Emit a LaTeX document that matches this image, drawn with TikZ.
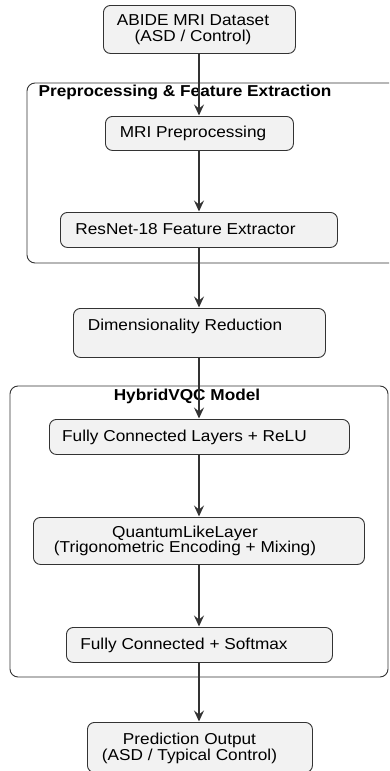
\documentclass[tikz,border=0pt]{standalone}
\usepackage{fontspec}
\setmainfont[FakeStretch=1.09]{Liberation Sans}
\usetikzlibrary{arrows.meta}

\definecolor{boxfill}{HTML}{F2F2F2}
\definecolor{edge}{HTML}{333333}

\tikzset{
  stage/.style={draw=edge, line width=0.9pt, fill=boxfill, rounded corners=7pt,
    inner sep=0pt, anchor=north west},
  group/.style={draw=edge, line width=0.9pt, rounded corners=8pt},
  txt/.style={inner sep=0pt, align=center, font=\fontsize{15.8}{15.5}\selectfont},
  grouptitle/.style={inner sep=0pt, font=\fontsize{15.8}{15.5}\selectfont\bfseries},
  flow/.style={draw=edge, line width=1.4pt,
    -{Stealth[length=11pt,width=10pt,inset=4pt]}, shorten >=0.5pt}
}

\begin{document}
\begin{tikzpicture}[x=1pt,y=-1pt]
  \useasboundingbox (0,0) rectangle (389,771);
  \clip (0,0) rectangle (389,771);

  % enclosing groups
  \draw[group] (27,83) rectangle (400,263);
  \draw[group] (10,386) rectangle (388,677);
  \node[grouptitle] (g1) at (185,92) {Preprocessing \& Feature Extraction};
  \node[grouptitle] (g2) at (187,396) {HybridVQC Model};

  % stages
  \node[stage, minimum width=192, minimum height=48] (abide) at (103,5) {};
  \node[stage, minimum width=188, minimum height=34] (prep) at (105,116) {};
  \node[stage, minimum width=277, minimum height=35] (resnet) at (60,212) {};
  \node[stage, minimum width=252, minimum height=49] (dimred) at (73,308) {};
  \node[stage, minimum width=300, minimum height=35] (fc) at (49,419) {};
  \node[stage, minimum width=331, minimum height=47] (qll) at (33,517) {};
  \node[stage, minimum width=266, minimum height=35] (soft) at (66,627) {};
  \node[stage, minimum width=225, minimum height=50] (pred) at (87,722) {};

  % stage labels
  \node[txt] (tabide) at (193,29.5) {ABIDE MRI Dataset\\(ASD / Control)};
  \node[txt] (tprep) at (193,133) {MRI Preprocessing};
  \node[txt] (tresnet) at (185.5,229) {ResNet-18 Feature Extractor};
  \node[txt] (tdimred) at (185,326) {Dimensionality Reduction};
  \node[txt] (tfc) at (184.5,437) {Fully Connected Layers + ReLU};
  \node[txt] (tqll) at (185,541) {QuantumLikeLayer\\(Trigonometric Encoding + Mixing)};
  \node[txt] (tsoft) at (184,645) {Fully Connected + Softmax};
  \node[txt] (tpred) at (189.5,748.5) {Prediction Output\\(ASD / Typical Control)};

  % flow
  \draw[flow] (abide.south -| 199,0) -- (prep.north -| 199,0);
  \draw[flow] (prep.south -| 199,0) -- (resnet.north -| 199,0);
  \draw[flow] (resnet.south -| 199,0) -- (dimred.north -| 199,0);
  \draw[flow] (dimred.south -| 199,0) -- (fc.north -| 199,0);
  \draw[flow] (fc.south -| 199,0) -- (qll.north -| 199,0);
  \draw[flow] (qll.south -| 199,0) -- (soft.north -| 199,0);
  \draw[flow] (soft.south -| 199,0) -- (pred.north -| 199,0);
\end{tikzpicture}
\end{document}
